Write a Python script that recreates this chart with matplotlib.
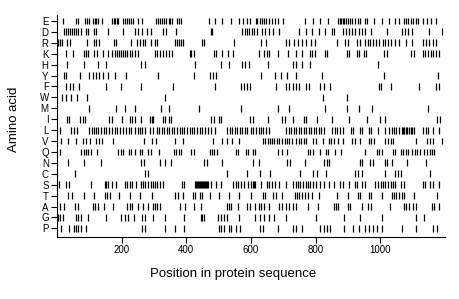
import matplotlib
matplotlib.use("Agg")
import matplotlib.pyplot as plt

plt.rcParams['font.family'] = ['Liberation Sans', 'DejaVu Sans']

# positions (residue numbers) of each amino acid
pos_E = [19, 59, 64, 88, 94, 99, 111, 116, 122, 127, 140, 170, 175, 180, 185, 190, 204, 210, 216, 222,
         230, 236, 251, 264, 306, 311, 319, 325, 331, 337, 345, 350, 356, 371, 377, 384, 470, 490, 509,
         539, 563, 577, 589, 596, 615, 620, 628, 634, 641, 648, 657, 665, 673, 683, 698, 766, 792, 815,
         839, 870, 875, 880, 885, 889, 894, 900, 907, 914, 923, 931, 938, 952, 959, 980, 1006, 1027,
         1047, 1058, 1073, 1081, 1087, 1094, 1102, 1110, 1118, 1131, 1146, 1157, 1172]
pos_D = [22, 28, 34, 41, 47, 53, 59, 66, 74, 90, 97, 113, 121, 157, 204, 240, 250, 263, 277, 292, 329,
         337, 369, 475, 481, 573, 581, 589, 594, 603, 611, 620, 634, 644, 657, 667, 688, 750, 771, 790,
         811, 828, 850, 857, 886, 893, 902, 912, 923, 933, 943, 954, 973, 1021, 1068, 1077, 1085, 1099,
         1151, 1191]
pos_R = [1, 4, 9, 14, 32, 41, 93, 115, 122, 129, 176, 184, 228, 248, 257, 265, 273, 292, 302, 308,
         366, 371, 377, 383, 389, 449, 456, 547, 631, 646, 707, 719, 732, 745, 759, 771, 787, 797, 865,
         891, 900, 928, 938, 954, 962, 970, 979, 987, 995, 1008, 1016, 1025, 1033, 1047, 1058, 1079,
         1099, 1131, 1141, 1151, 1162, 1172]
pos_K = [27, 48, 82, 89, 97, 115, 124, 141, 157, 170, 180, 186, 192, 199, 205, 211, 217, 225, 232, 240,
         249, 303, 310, 319, 329, 337, 346, 355, 410, 416, 425, 485, 493, 511, 529, 545, 624, 641, 649,
         657, 683, 714, 738, 759, 782, 790, 797, 828, 836, 897, 904, 928, 935, 949, 956, 1011, 1021,
         1094, 1105, 1131, 1139, 1147, 1156, 1164, 1172, 1181]
pos_H = [30, 82, 126, 152, 259, 273, 428, 506, 532, 573, 581, 594, 652, 730, 738, 759, 782, 993]
pos_Y = [22, 27, 72, 100, 110, 121, 131, 141, 157, 178, 214, 313, 423, 473, 483, 493, 631, 676, 693,
         711, 738, 821, 1011, 1179]
pos_F = [27, 41, 48, 69, 152, 199, 259, 360, 490, 570, 579, 589, 596, 678, 709, 719, 730, 740, 750,
         771, 780, 813, 825, 844, 995, 1004, 1032, 1120, 1172, 1181]
pos_W = [14, 27, 42, 63, 92, 334, 823, 897]
pos_M = [100, 183, 209, 242, 321, 348, 438, 570, 683, 719, 828, 897, 935, 975, 1149]
pos_I = [30, 37, 72, 79, 86, 162, 169, 202, 225, 232, 240, 259, 287, 294, 298, 327, 334, 345, 352,
         477, 485, 501, 508, 597, 605, 652, 696, 704, 730, 763, 771, 805, 852, 904, 959, 998, 1014,
         1177, 1185]
pos_L = [9, 43, 51, 62, 100, 107, 113, 121, 128, 136, 145, 152, 162, 170, 178, 186, 195, 204, 214, 222,
         230, 240, 249, 256, 263, 272, 287, 297, 308, 317, 324, 331, 339, 348, 355, 362, 371, 379, 386,
         394, 402, 410, 418, 425, 433, 441, 449, 459, 466, 475, 490, 527, 535, 542, 550, 558, 566, 573,
         581, 589, 600, 607, 615, 624, 631, 638, 646, 655, 709, 717, 724, 732, 740, 748, 756, 763, 771,
         780, 787, 794, 802, 811, 818, 825, 852, 860, 867, 875, 884, 910, 917, 938, 945, 964, 973, 993,
         1014, 1027, 1035, 1042, 1049, 1058, 1066, 1070, 1074, 1079, 1084, 1089, 1094, 1099, 1105, 1131,
         1141, 1149, 1162, 1183]
pos_V = [11, 34, 58, 79, 89, 103, 121, 131, 138, 172, 269, 294, 306, 366, 389, 483, 511, 527, 542, 563,
         638, 644, 652, 659, 665, 672, 680, 688, 696, 704, 711, 719, 728, 740, 748, 756, 763, 771, 792,
         802, 823, 842, 849, 856, 870, 886, 912, 921, 938, 964, 973, 981, 1016, 1025, 1032, 1039, 1112,
         1146, 1153, 1164, 1191]
pos_Q = [9, 74, 82, 89, 97, 105, 124, 188, 197, 204, 222, 230, 240, 256, 263, 282, 291, 314, 362, 369,
         376, 383, 414, 423, 473, 480, 487, 496, 553, 560, 584, 591, 605, 613, 683, 696, 711, 776, 784,
         792, 813, 832, 839, 860, 880, 952, 990, 997, 1006, 1039, 1047, 1063, 1070, 1079, 1087, 1099,
         1108, 1115, 1122, 1136, 1146, 1153, 1160, 1167]
pos_N = [34, 82, 136, 259, 269, 319, 334, 352, 456, 464, 511, 607, 626, 711, 721, 766, 825, 834, 842,
         938, 945, 969, 977, 1014, 1021, 1037, 1084, 1141]
pos_C = [55, 271, 280, 527, 589, 628, 659, 752, 792, 805, 832, 923, 931, 945, 1016, 1047, 1056, 1063,
         1153]
pos_S = [6, 27, 37, 105, 147, 152, 157, 170, 183, 209, 217, 225, 232, 245, 259, 266, 273, 282, 292, 296,
         303, 310, 319, 329, 386, 394, 428, 431, 434, 436, 439, 442, 445, 448, 451, 454, 457, 460, 463,
         466, 477, 493, 506, 545, 553, 560, 568, 579, 592, 600, 607, 610, 613, 631, 649, 657, 665, 676,
         688, 707, 730, 738, 745, 752, 761, 769, 776, 784, 792, 802, 813, 825, 842, 856, 875, 886, 904,
         921, 928, 945, 952, 985, 993, 1001, 1008, 1016, 1025, 1032, 1039, 1047, 1063, 1073, 1131, 1139,
         1153, 1162, 1183]
pos_T = [34, 45, 82, 113, 147, 155, 165, 193, 225, 256, 293, 366, 373, 391, 421, 428, 441, 449, 473,
         501, 532, 563, 600, 636, 644, 667, 678, 696, 735, 742, 750, 759, 766, 776, 790, 811, 865, 900,
         931, 938, 964, 973, 1006, 1035, 1042, 1049, 1058, 1066, 1073, 1105, 1177]
pos_A = [9, 20, 55, 66, 110, 118, 126, 145, 172, 217, 225, 232, 249, 266, 282, 296, 303, 310, 319, 381,
         397, 423, 444, 527, 532, 539, 560, 589, 596, 613, 624, 631, 641, 655, 688, 696, 707, 719, 730,
         740, 776, 808, 856, 863, 870, 900, 907, 945, 962, 973, 1029, 1073, 1081, 1089, 1102, 1110,
         1160, 1167, 1183]
pos_G = [3, 9, 17, 58, 66, 74, 95, 152, 199, 211, 219, 238, 263, 273, 296, 334, 392, 444, 449, 456, 498,
         506, 516, 527, 563, 613, 628, 641, 655, 672, 707, 802, 888, 938, 1006, 1110, 1136]
pos_P = [13, 37, 51, 58, 66, 74, 89, 263, 271, 334, 366, 394, 501, 508, 516, 532, 537, 553, 566, 628,
         638, 683, 730, 740, 759, 815, 825, 834, 844, 889, 917, 935, 952, 964, 977, 990, 1006, 1066,
         1112, 1162, 1177]

# rows from top to bottom
amino_acids = ['E', 'D', 'R', 'K', 'H', 'Y', 'F', 'W', 'M', 'I',
               'L', 'V', 'Q', 'N', 'C', 'S', 'T', 'A', 'G', 'P']
positions = [pos_E, pos_D, pos_R, pos_K, pos_H, pos_Y, pos_F, pos_W, pos_M, pos_I,
             pos_L, pos_V, pos_Q, pos_N, pos_C, pos_S, pos_T, pos_A, pos_G, pos_P]
x_ticks = [200, 400, 600, 800, 1000]

n = len(amino_acids)
offsets = [n - 1 - i for i in range(n)]

fig = plt.figure(figsize=(4.6, 2.99), dpi=100)
ax = fig.add_axes([0.124, 0.207, 0.843, 0.743])

ax.eventplot(positions, lineoffsets=offsets, linelengths=0.62,
             linewidths=0.9, colors='black')

ax.set_xlim(0, 1200)
ax.set_ylim(-0.8, n - 0.45)
ax.set_yticks(offsets)
ax.set_yticklabels(amino_acids)
ax.set_xticks(x_ticks)
ax.tick_params(axis='both', labelsize=7, length=4, width=0.8, pad=2)

for s in ['top', 'right']:
    ax.spines[s].set_visible(False)

ax.set_xlabel('Position in protein sequence', fontsize=9.5)
ax.set_ylabel('Amino acid', fontsize=9.5)
# label placement as in the original figure
ax.xaxis.set_label_coords(0.455, -0.14)
ax.yaxis.set_label_coords(-0.095, 0.53)

fig.savefig('out.png', dpi=100)
